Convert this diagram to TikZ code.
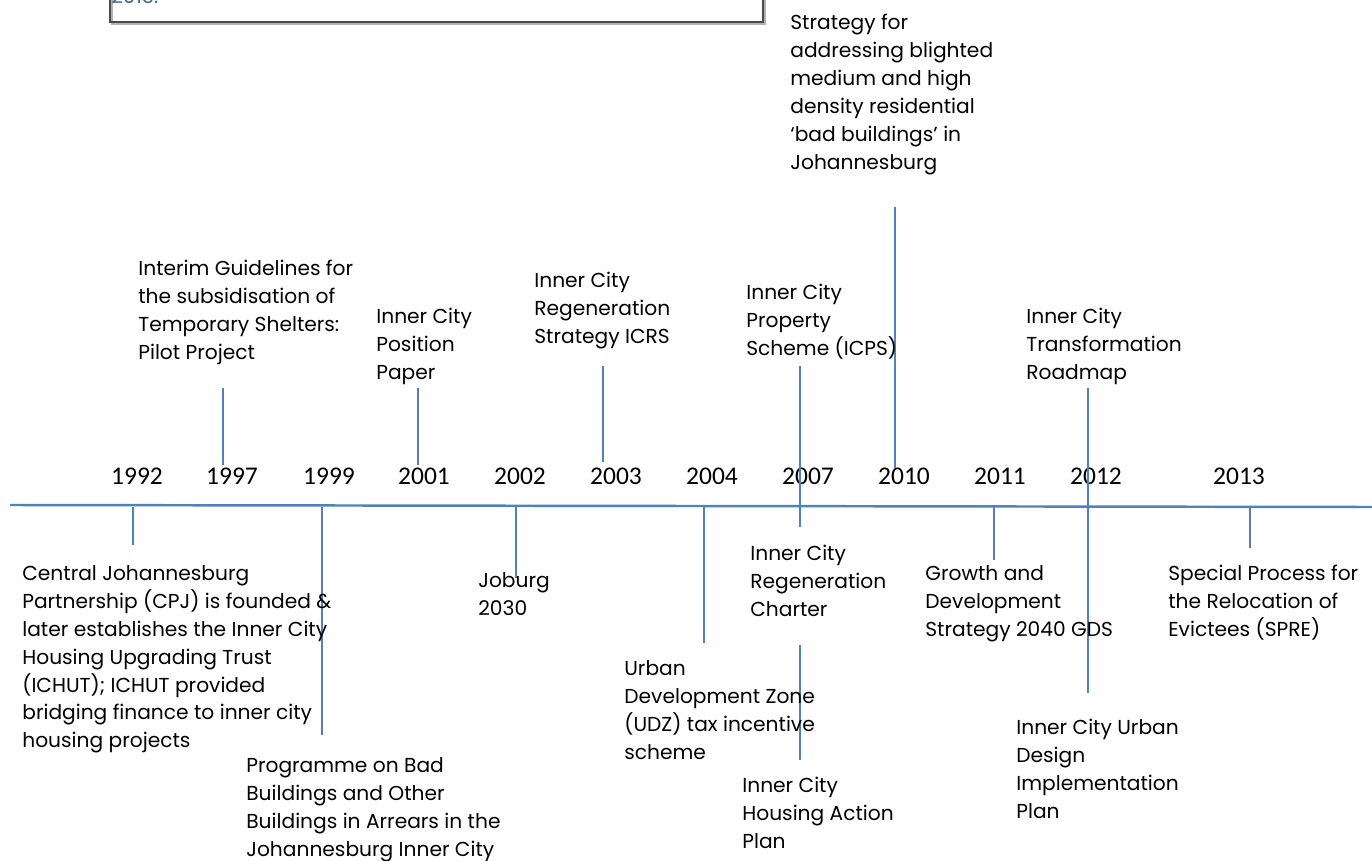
\documentclass[tikz,border=0pt]{standalone}
\usepackage{fontspec}
\setmainfont{Poppins}
\newfontfamily\yearfont{Carlito}
\definecolor{axisblue}{HTML}{4F81BD}
\definecolor{boxgray}{HTML}{4A4A4A}
\tikzset{
  event/.style={anchor=north west, align=left, inner sep=0pt,
    font=\fontsize{11.5}{15.9}\selectfont},
  yearlabel/.style={inner sep=0pt, font=\yearfont\fontsize{14.5}{16}\selectfont},
  stem/.style={draw=axisblue, line width=1.1pt},
  axisline/.style={draw=axisblue, line width=1.4pt}
}

\begin{document}
\begin{tikzpicture}[x=0.02cm, y=-0.02cm]
    \useasboundingbox (0,0) rectangle (1372,861);
    % cut-off box at the top
    \draw[gray!60, line width=1.5pt] (112,-20) -- (112,24) -- (765,24) -- (765,-20);
    \draw[boxgray, line width=1.3pt] (110,-20) rectangle (763,22);
    \node[anchor=base west, inner sep=0pt, text=axisblue!80!black,
      font=\fontsize{11.5}{14}\selectfont] (cut) at (111,4) {2013.};

    % time axis
    \coordinate (axl) at (10,505);
    \coordinate (axr) at (1372,507);
    \draw[axisline] (axl) -- (axr);

    % years
    \foreach \yr/\x in {1992/137, 1997/232, 1999/329, 2001/424, 2002/520,
        2003/616, 2004/712, 2007/808, 2010/904, 2011/1000, 2012/1096, 2013/1239}
        \node[yearlabel] (y\yr) at (\x,476) {\yr};

    % stems
    \foreach \x/\a/\b in {223/388/465, 418/388/465, 603/366/462, 800/366/527,
        895/207/468, 1088/388/693, 133/507/545, 322/507/735, 516/507/578,
        704/507/643, 800/645/760, 994/507/560, 1250/507/548}
        \draw[stem] (\x,\a) -- (\x,\b);

    % events above the axis
    \node[event] (interim) at (138,260) {Interim Guidelines for\\the subsidisation of\\Temporary Shelters:\\Pilot Project};
    \node[event] (position) at (376,308) {Inner City\\Position\\Paper};
    \node[event] (icrs) at (534,272) {Inner City\\Regeneration\\Strategy ICRS};
    \node[event] (icps) at (746,284) {Inner City\\Property\\Scheme (ICPS)};
    \node[event] (blighted) at (790,14) {Strategy for\\addressing blighted\\medium and high\\density residential\\`bad buildings' in\\Johannesburg};
    \node[event] (roadmap) at (1026,308) {Inner City\\Transformation\\Roadmap};

    % events below the axis
    \node[event] (cjp) at (22,565) {Central Johannesburg\\Partnership (CPJ) is founded \&\\later establishes the Inner City\\Housing Upgrading Trust\\(ICHUT); ICHUT provided\\bridging finance to inner city\\housing projects};
    \node[event] (badbuild) at (246,757) {Programme on Bad\\Buildings and Other\\Buildings in Arrears in the\\Johannesburg Inner City};
    \node[event] (joburg) at (478,572) {Joburg\\2030};
    \node[event] (udz) at (624,660) {Urban\\Development Zone\\(UDZ) tax incentive\\scheme};
    \node[event] (charter) at (750,545) {Inner City\\Regeneration\\Charter};
    \node[event] (housing) at (742,777) {Inner City\\Housing Action\\Plan};
    \node[event] (gds) at (925,565) {Growth and\\Development\\Strategy 2040 GDS};
    \node[event] (spre) at (1168,565) {Special Process for\\the Relocation of\\Evictees (SPRE)};
    \node[event] (design) at (1016,719) {Inner City Urban\\Design\\Implementation\\Plan};
\end{tikzpicture}
\end{document}
